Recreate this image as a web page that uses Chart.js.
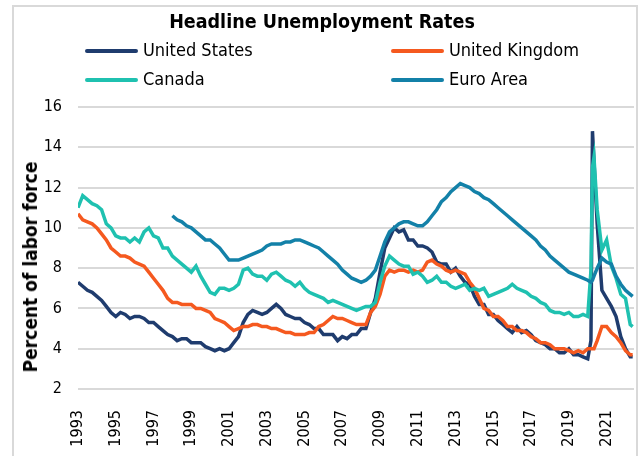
<!DOCTYPE html>
<html>
<head>
<meta charset="utf-8">
<script src="https://cdn.jsdelivr.net/npm/chart.js@4/dist/chart.umd.min.js"></script>
<style>
  body { margin: 0; background: #fff; font-family: 'DejaVu Sans Condensed', 'DejaVu Sans', sans-serif; }
  #wrap { position: relative; width: 644px; height: 456px; overflow: hidden; }
  #frame { position: absolute; left: 12px; top: 5px; width: 622px; height: 470px; border: 2px solid #d9d9d9; }
  #title { position: absolute; left: 0; width: 644px; top: 10px; text-align: center; font-weight: bold; font-size: 19.5px; color: #000; }
  .leg { position: absolute; font-size: 18px; color: #000; white-space: nowrap; }
  .leg i { position: absolute; left: -58px; top: 10px; width: 53px; height: 4px; border-radius: 2px; }
  #ytitle { position: absolute; left: 30px; top: 267px; transform: translate(-50%, -50%) rotate(-90deg); font-weight: bold; font-size: 19px; white-space: nowrap; }
  canvas { position: absolute; left: 0; top: 0; }
</style>
</head>
<body>
<div id="wrap">
  <div id="frame"></div>
  <canvas id="myChart" width="644" height="456"></canvas>
  <div id="title">Headline Unemployment Rates</div>
  <div class="leg" style="left:143px;top:39px"><i style="background:#1f3c6e"></i>United States</div>
  <div class="leg" style="left:449px;top:39px"><i style="background:#f5591f"></i>United Kingdom</div>
  <div class="leg" style="left:143px;top:68px"><i style="background:#1fc1b0"></i>Canada</div>
  <div class="leg" style="left:449px;top:68px"><i style="background:#1381a8"></i>Euro Area</div>
  <div id="ytitle">Percent of labor force</div>
</div>
<script>
// quarterly points 1993-2019, then denser around the 2020 spike
const firstYear = 1993;
const lastQuarterlyYear = 2019;
const recentDates = [2020.0, 2020.17, 2020.25, 2020.33, 2020.5, 2020.75, 2021.0, 2021.25, 2021.5, 2021.75, 2022.0, 2022.25, 2022.38];
const yearTicks = [1993, 1995, 1997, 1999, 2001, 2003, 2005, 2007, 2009, 2011, 2013, 2015, 2017, 2019, 2021];

const usRates = [
  7.3, 7.1, 6.9, 6.8,  6.6, 6.4, 6.1, 5.8,  5.6, 5.8, 5.7, 5.5,  5.6, 5.6, 5.5, 5.3,
  5.3, 5.1, 4.9, 4.7,  4.6, 4.4, 4.5, 4.5,  4.3, 4.3, 4.3, 4.1,  4.0, 3.9, 4.0, 3.9,
  4.0, 4.3, 4.6, 5.3,  5.7, 5.9, 5.8, 5.7,  5.8, 6.0, 6.2, 6.0,  5.7, 5.6, 5.5, 5.5,
  5.3, 5.2, 5.0, 5.0,  4.7, 4.7, 4.7, 4.4,  4.6, 4.5, 4.7, 4.7,  5.0, 5.0, 5.8, 6.5,
  7.8, 9.0, 9.5, 10.0, 9.8, 9.9, 9.4, 9.4,  9.1, 9.1, 9.0, 8.8,  8.3, 8.2, 8.2, 7.8,
  8.0, 7.6, 7.3, 7.2,  6.6, 6.2, 6.2, 5.7,  5.7, 5.4, 5.2, 5.0,  4.8, 5.1, 4.8, 4.9,
  4.7, 4.4, 4.3, 4.2,  4.0, 4.0, 3.8, 3.8,  4.0, 3.7, 3.7, 3.6,
  3.5, 4.4, 14.8, 13.3, 10.2, 6.9, 6.5, 6.1, 5.6, 4.6, 4.0, 3.6, 3.6
];
const ukRates = [
  10.7, 10.4, 10.3, 10.2,  10.0, 9.7, 9.4, 9.0,  8.8, 8.6, 8.6, 8.5,  8.3, 8.2, 8.1, 7.8,
  7.5, 7.2, 6.9, 6.5,  6.3, 6.3, 6.2, 6.2,  6.2, 6.0, 6.0, 5.9,  5.8, 5.5, 5.4, 5.3,
  5.1, 4.9, 5.0, 5.1,  5.1, 5.2, 5.2, 5.1,  5.1, 5.0, 5.0, 4.9,  4.8, 4.8, 4.7, 4.7,
  4.7, 4.8, 4.8, 5.1,  5.2, 5.4, 5.6, 5.5,  5.5, 5.4, 5.3, 5.2,  5.2, 5.2, 5.8, 6.1,
  6.7, 7.6, 7.9, 7.8,  7.9, 7.9, 7.8, 7.9,  7.8, 7.9, 8.3, 8.4,  8.2, 8.1, 7.9, 7.8,
  7.9, 7.8, 7.7, 7.3,  7.0, 6.5, 6.0, 5.9,  5.6, 5.6, 5.4, 5.1,  5.1, 4.9, 4.9, 4.8,
  4.6, 4.5, 4.3, 4.3,  4.2, 4.0, 4.0, 4.0,  3.9, 3.8, 3.9, 3.8,
  4.0, 4.0, 4.0, 4.0, 4.4, 5.1, 5.1, 4.8, 4.6, 4.3, 3.9, 3.7, 3.7
];
const canadaRates = [
  11.0, 11.6, 11.4, 11.2,  11.1, 10.9, 10.2, 10.0,  9.6, 9.5, 9.5, 9.3,  9.5, 9.3, 9.8, 10.0,
  9.6, 9.5, 9.0, 9.0,  8.6, 8.4, 8.2, 8.0,  7.8, 8.1, 7.6, 7.2,  6.8, 6.7, 7.0, 7.0,
  6.9, 7.0, 7.2, 7.9,  8.0, 7.7, 7.6, 7.6,  7.4, 7.7, 7.8, 7.6,  7.4, 7.3, 7.1, 7.3,
  7.0, 6.8, 6.7, 6.6,  6.5, 6.3, 6.4, 6.3,  6.2, 6.1, 6.0, 5.9,  6.0, 6.1, 6.1, 6.3,
  7.3, 8.1, 8.6, 8.4,  8.2, 8.1, 8.1, 7.7,  7.8, 7.6, 7.3, 7.4,  7.6, 7.3, 7.3, 7.1,
  7.0, 7.1, 7.2, 6.9,  7.0, 6.9, 7.0, 6.6,  6.7, 6.8, 6.9, 7.0,  7.2, 7.0, 6.9, 6.8,
  6.6, 6.5, 6.3, 6.2,  5.9, 5.8, 5.8, 5.7,  5.8, 5.6, 5.6, 5.7,
  5.6, 7.9, 13.0, 13.5, 10.9, 8.9, 9.4, 8.1, 7.5, 6.7, 6.5, 5.2, 5.1
];
const euroRates = [
  null, null, null, null,  null, null, null, null,  null, null, null, null,  null, null, null, null,
  null, null, null, null,  10.6, 10.4, 10.3, 10.1,  10.0, 9.8, 9.6, 9.4,  9.4, 9.2, 9.0, 8.7,
  8.4, 8.4, 8.4, 8.5,  8.6, 8.7, 8.8, 8.9,  9.1, 9.2, 9.2, 9.2,  9.3, 9.3, 9.4, 9.4,
  9.3, 9.2, 9.1, 9.0,  8.8, 8.6, 8.4, 8.2,  7.9, 7.7, 7.5, 7.4,  7.3, 7.4, 7.6, 7.9,
  8.6, 9.3, 9.8, 10.0,  10.2, 10.3, 10.3, 10.2,  10.1, 10.1, 10.3, 10.6,  10.9, 11.3, 11.5, 11.8,
  12.0, 12.2, 12.1, 12.0,  11.8, 11.7, 11.5, 11.4,  11.2, 11.0, 10.8, 10.6,  10.4, 10.2, 10.0, 9.8,
  9.6, 9.4, 9.1, 8.9,  8.6, 8.4, 8.2, 8.0,  7.8, 7.7, 7.6, 7.5,
  7.4, 7.3, 7.4, 7.6, 8.0, 8.5, 8.3, 8.2, 7.6, 7.2, 6.9, 6.7, 6.6
];

const dates = [];
for (let y = firstYear; y <= lastQuarterlyYear; y++) {
  for (let q = 0; q < 4; q++) dates.push(y + q / 4);
}
dates.push(...recentDates);

const toPoints = (values) => values.map((v, i) => ({ x: dates[i], y: v }));

const series = [
  { label: 'United States', values: usRates, color: '#1f3c6e', order: 3 },
  { label: 'United Kingdom', values: ukRates, color: '#f5591f', order: 2 },
  { label: 'Canada', values: canadaRates, color: '#1fc1b0', order: 1 },
  { label: 'Euro Area', values: euroRates, color: '#1381a8', order: 0 },
];

const tickFont = { family: "'DejaVu Sans Condensed', 'DejaVu Sans', sans-serif", size: 16 };

const ctx = document.getElementById('myChart').getContext('2d');
const myChart = new Chart(ctx, {
  type: 'line',
  data: {
    datasets: series.map((s) => ({
      label: s.label,
      data: toPoints(s.values),
      borderColor: s.color,
      backgroundColor: s.color,
      borderWidth: 3.5,
      pointRadius: 0,
      tension: 0,
      order: s.order,
    })),
  },
  options: {
    responsive: false,
    animation: false,
    layout: { padding: { left: 14, top: 107, right: 10, bottom: 0 } },
    plugins: { legend: { display: false }, tooltip: { enabled: false } },
    scales: {
      x: {
        type: 'linear',
        min: 1993,
        max: 2022.45,
        grid: { display: false },
        border: { display: false },
        afterBuildTicks: (axis) => { axis.ticks = yearTicks.map((v) => ({ value: v })); },
        afterFit: (axis) => { axis.height = 67; },
        ticks: {
          color: '#000',
          font: tickFont,
          minRotation: 90,
          maxRotation: 90,
          autoSkip: false,
          padding: 13,
          callback: (v) => String(v),
        },
      },
      y: {
        min: 2,
        max: 16,
        grid: { color: '#d9d9d9', lineWidth: 2, drawTicks: false },
        border: { display: false },
        afterFit: (axis) => { axis.width = 64; },
        ticks: { stepSize: 2, color: '#000', font: tickFont, padding: 16 },
      },
    },
  },
});
</script>
</body>
</html>
